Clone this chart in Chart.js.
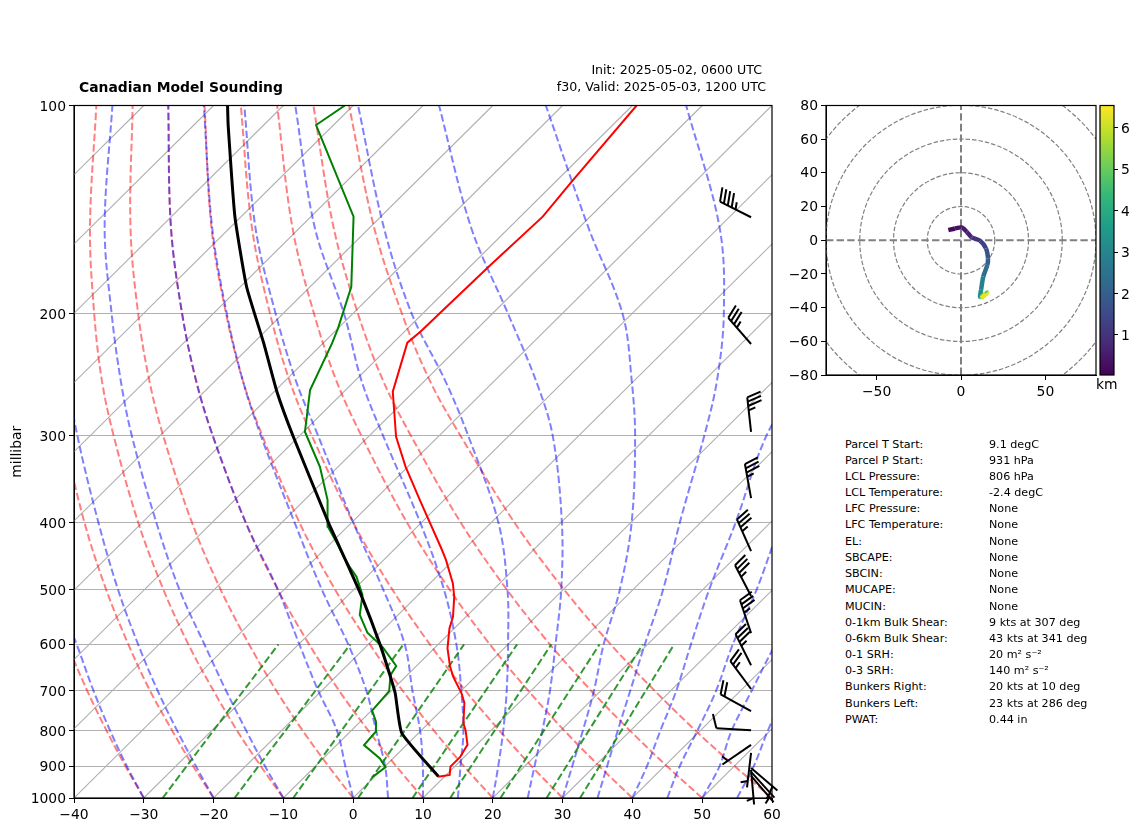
<!DOCTYPE html>
<html><head><meta charset="utf-8">
<script src="https://cdn.jsdelivr.net/npm/chart.js@4/dist/chart.umd.min.js"></script>
<style>
html,body{margin:0;padding:0;background:#fff;width:1142px;height:832px;overflow:hidden;font-family:"DejaVu Sans",sans-serif;color:#000}
canvas{position:absolute}
.t{position:absolute;white-space:nowrap;line-height:1}
</style></head><body>
<canvas id="skew" style="left:0;top:0" width="800" height="832"></canvas>
<canvas id="hodo" style="left:780px;top:90px" width="330" height="310"></canvas>
<canvas id="cbar" style="left:1090px;top:90px" width="52" height="310"></canvas>
<div id="texts"></div>
<script>
// ---------- tick labels and axis limits ----------
const pressureTicks = [100,200,300,400,500,600,700,800,900,1000];
const hodoYTicks = [-80,-60,-40,-20,0,20,40,60,80];
const hodoXTicks = [-50,0,50];
const colorbarTicks = [1,2,3,4,5,6];
const colorbarRange = [0.03,6.54];
const hodoRings = [20,40,60,80,100];

// ---------- sounding (pressure hPa, temperature degC) ----------
const tempP = [931.6,926.3,901,873,838,798,780,729,706,668,646,608,569,547,512,490,453,435.5,373,332,301,259,220,212,199.5,171,144.7,128.8,100];
const tempC = [9.1,10.5,9.4,9.4,8.7,6.3,5.0,2.2,0.4,-3.2,-5.1,-8.1,-10.7,-11.9,-14.6,-16.7,-21.1,-23.5,-33.2,-40.4,-46,-53,-58,-57.7,-57.6,-57.3,-56.8,-57.7,-59.4];
const dewP = [933.4,903,876.6,838.5,802.2,776,748,700.7,664.4,644.7,606,577,544,509,479,463.5,453,428.7,405.7,371.3,332.4,295.9,257.5,220.4,209.8,182.7,144.7,106.7,100];
const dewC = [-0.3,0.2,-1.9,-6.1,-6.35,-7.75,-9.9,-10.3,-12.4,-12.9,-17.5,-21.85,-25.5,-28,-31.5,-33.9,-35.5,-39.1,-42.8,-46.7,-52.6,-59.8,-65.1,-68.7,-70,-74.1,-83.9,-102.5,-101.2];
const parcelP = [931,806,706,664.4,601,512,453,401,300.8,259,220,182.7,144.7,106.7,100];
const parcelC = [9.1,-2.4,-9.1,-12.5,-18.25,-27.85,-35.5,-43.2,-60.75,-69.6,-78.6,-89.1,-100.9,-115.1,-118];

// ---------- background thermodynamic lines ----------
const isothermStart = [-130,-120,-110,-100,-90,-80,-70,-60,-50,-40,-30,-20,-10,0,10,20,30,40,50];
const curveLevels = [1000,900,800,700,600,500,400,300,250,200,150,100];
const dryAdiabats = [
 [-40,-46.9,-54.4,-62.6,-71.7,-81.9,-93.7,-107.9,-116.3,-125.9,-137.6,-152.4],
 [-30,-37.2,-45.0,-53.6,-63.1,-73.7,-86.0,-100.8,-109.6,-119.6,-131.8,-147.2],
 [-20,-27.5,-35.6,-44.6,-54.4,-65.5,-78.3,-93.7,-102.9,-113.3,-126.0,-142.0],
 [-10,-17.8,-26.3,-35.5,-45.8,-57.3,-70.6,-86.6,-96.2,-107.0,-120.1,-136.8],
 [0,-8.1,-16.9,-26.5,-37.1,-49.1,-62.9,-79.5,-89.4,-100.7,-114.3,-131.6],
 [10,1.6,-7.5,-17.5,-28.5,-40.9,-55.2,-72.4,-82.7,-94.4,-108.5,-126.5],
 [20,11.3,1.9,-8.4,-19.8,-32.7,-47.5,-65.3,-76.0,-88.1,-102.7,-121.3],
 [30,21.0,11.3,0.6,-11.2,-24.5,-39.8,-58.2,-69.3,-81.8,-96.9,-116.1],
 [40,30.7,20.6,9.6,-2.6,-16.3,-32.1,-51.1,-62.6,-75.5,-91.1,-110.9],
 [50,40.4,30.0,18.6,6.0,-8.1,-24.4,-44.0,-55.9,-69.2,-85.2,-105.7],
 [60,50.1,39.4,27.7,14.7,0.1,-16.7,-36.9,-49.2,-62.9,-79.4,-100.6]
];
const moistAdiabats = [
 [-40,-46.7,-54.2,-62.4,-71.5,-81.7,-93.5,-107.7,-116.1,-125.7,-137.4,-152.2],
 [-30,-37,-44.5,-52.7,-61.8,-72.8,-85.2,-100,-109,-119,-131,-146.5],
 [-20,-27.1,-34.9,-43.5,-53,-63.8,-76.3,-91.8,-101,-111.3,-124,-140],
 [-10,-17.2,-25,-33.7,-43.5,-55,-68,-84,-93.5,-104.5,-118,-134.5],
 [0,-5.7,-12,-20.5,-29.9,-40.9,-55.2,-72.4,-82.7,-94.4,-108.5,-126.5],
 [5,0,-6.4,-13.6,-22.9,-34.6,-48.2,-65.5,-76,-88,-102.6,-121.4],
 [10,5.4,-0.1,-7,-14.8,-25.8,-39.8,-57.3,-68.4,-81,-96.4,-115.6],
 [15,10.8,6.1,0,-7.4,-17.1,-30.2,-48,-59,-71.2,-87.9,-108.3],
 [20,16.2,11.8,6.5,0,-8,-19,-35.8,-47,-61.5,-78,-99.3],
 [25,21.4,17.4,12.7,6.8,-0.3,-9.9,-23.7,-34,-47.7,-65.5,-87.7],
 [30,26.8,23.2,19,13.7,8.1,0.1,-11.9,-20.3,-31.3,-48.7,-72.4],
 [35,31.8,28.2,24.2,19.6,14.3,7,-2,-8.1,-16.8,-29.9,-52.3],
 [40,37.5,34.3,30.8,26.2,20.9,15,6.9,3.8,-1,-11,-30],
 [45,42.2,39.6,36.5,32.2,27.7,21.6,15,11,6,-1,-12],
 [50,47.9,44.5,41.6,38.3,34.9,30,24,20,15,9,0],
 [55,52.8,49.7,46.5,43,39,34,28,24,20,14,5],
 [60,57.4,54.5,51.5,48,44,40,35,31,27,22,15]
];
const mixingLevels = [1000,600];
const mixingLines = [[-27.3,-32.9],[-17,-22.6],[-8.6,-15],[0.7,-6.3],[8.5,1.3],[13.9,6.2],[21.1,13.1],[27.7,19.3],[32.5,23.8]];

// ---------- wind barbs ----------
const barbColumnX = 57;
const barbP = [145,221,296,369,440,511,578,643,696,749,798,838,861,905,911,917,929];
const barbSpeed = [45,35,35,35,35,35,35,35,25,20,10,5,5,5,5,5,5];
const barbDir = [296.7,319,353.7,349.8,336,332.5,341.4,333.4,323.4,298.6,273.3,235.6,186.7,130.6,175,137.6,139.4];

// ---------- hodograph ----------
const hodoU = [-7.5,-3.6,0.4,3.4,6.3,11.3,14.8,16,15.6,13.2,11.9,11.3,15.6,12];
const hodoV = [6,7,7.6,5,1.7,-0.3,-4.8,-10.7,-14.7,-21.6,-29.5,-33.8,-31,-34.5];
const hodoKm = [0.1,0.2,0.35,0.5,0.7,1,1.3,1.7,2,2.4,2.9,3.3,4.8,6.3];
const viridis = ['#440154','#482878','#3e4989','#31688e','#26828e','#1f9e89','#35b779','#6ece58','#b5de2b','#fde725'];

// ---------- text ----------
const statLabels = ['Parcel T Start:','Parcel P Start:','LCL Pressure:','LCL Temperature:','LFC Pressure:','LFC Temperature:','EL:','SBCAPE:','SBCIN:','MUCAPE:','MUCIN:','0-1km Bulk Shear:','0-6km Bulk Shear:','0-1 SRH:','0-3 SRH:','Bunkers Right:','Bunkers Left:','PWAT:'];
const statValues = ['9.1 degC','931 hPa','806 hPa','-2.4 degC','None','None','None','None','None','None','None','9 kts at 307 deg','43 kts at 341 deg','20 m² s⁻²','140 m² s⁻²','20 kts at 10 deg','23 kts at 286 deg','0.44 in'];
const statY = [445,461,477,493,509,525,542,558,574,590,606.5,623,639,655,671,687,703.5,720];

// ---------- helpers ----------
const SKEW = 100;
const FONT = '"DejaVu Sans"';
const TICK = 13.9;
const skewX = (t,p) => t + SKEW*Math.log10(1000/p);
const minusFmt = v => v<0 ? '\u2212'+Math.abs(v) : String(v);
const zip = (ts,ps) => ts.map((t,i)=>({x:skewX(t,ps[i]),y:ps[i]}));
function viridisAt(km){
  const f=Math.max(0,Math.min(0.9999,(km-colorbarRange[0])/(colorbarRange[1]-colorbarRange[0])))*(viridis.length-1);
  const i=Math.floor(f),k=f-i;
  const rgb=h=>[1,3,5].map(j=>parseInt(h.substr(j,2),16));
  const a=rgb(viridis[i]),b=rgb(viridis[i+1]);
  return 'rgb('+a.map((c,j)=>Math.round(c+(b[j]-c)*k)).join(',')+')';
}
const DASH=[7.4,3.2];
const bgLine=(data,color,extra)=>Object.assign({type:'line',data,borderColor:color,borderWidth:2,borderDash:DASH,pointRadius:0,tension:0.35,fill:false},extra||{});

// ---------- skew-T chart ----------
const skewSets=[];
skewSets.push({type:'line',label:'Parcel',data:zip(parcelC,parcelP),borderColor:'#000',borderWidth:3,pointRadius:0,tension:0.15,order:1});
skewSets.push({type:'line',label:'Temperature',data:zip(tempC,tempP),borderColor:'#ff0000',borderWidth:2,pointRadius:0,tension:0,order:2});
skewSets.push({type:'line',label:'Dewpoint',data:zip(dewC,dewP),borderColor:'#008000',borderWidth:2,pointRadius:0,tension:0,order:3});
skewSets.push({type:'scatter',label:'Wind',data:barbP.map(p=>({x:barbColumnX,y:p})),pointRadius:0,showLine:false,clip:false,order:4});
mixingLines.forEach(r=>skewSets.push(bgLine(zip(r,mixingLevels),'rgba(0,128,0,0.8)',{tension:0,order:5})));
moistAdiabats.forEach(r=>skewSets.push(bgLine(zip(r,curveLevels),'rgba(0,0,255,0.5)',{order:6})));
dryAdiabats.forEach(r=>skewSets.push(bgLine(zip(r,curveLevels),'rgba(255,0,0,0.5)',{order:7})));
isothermStart.forEach(t=>skewSets.push({type:'line',data:[{x:t,y:1000},{x:t+SKEW,y:100}],borderColor:'#b0b0b0',borderWidth:1.1,pointRadius:0,order:8}));

const framePlugin={id:'frame',afterDatasetsDraw(c){const a=c.chartArea,x=c.ctx;x.save();x.strokeStyle='#000';x.lineWidth=1.2;x.strokeRect(a.left,a.top,a.right-a.left,a.bottom-a.top);x.restore();}};

const barbPlugin={id:'barbs',afterDraw(c){
  const idx=c.data.datasets.findIndex(d=>d.label==='Wind');
  const els=c.getDatasetMeta(idx).data,x=c.ctx,L=34.7;
  x.save();x.strokeStyle='#000';x.fillStyle='#000';x.lineWidth=2;x.lineCap='butt';
  els.forEach((el,i)=>{
    const a=barbDir[i]*Math.PI/180,ux=Math.sin(a),uy=-Math.cos(a),nx=-uy,ny=ux;
    const tx=el.x+ux*L,ty=el.y+uy*L;
    x.beginPath();x.moveTo(el.x,el.y);x.lineTo(tx,ty);x.stroke();
    let s=Math.round(barbSpeed[i]/5)*5,off=0;
    const sp=0.125*L,h=0.4*L;
    const flags=Math.floor(s/50);s-=flags*50;
    const full=Math.floor(s/10);s-=full*10;
    const half=s>=5;
    for(let k=0;k<flags;k++){
      const px=tx-ux*off,py=ty-uy*off;
      x.beginPath();x.moveTo(px,py);x.lineTo(px+nx*h-ux*sp,py+ny*h-uy*sp);x.lineTo(px-ux*2*sp,py-uy*2*sp);x.closePath();x.fill();
      off+=2.5*sp;
    }
    for(let k=0;k<full;k++){
      const px=tx-ux*off,py=ty-uy*off;
      x.beginPath();x.moveTo(px,py);x.lineTo(px+nx*h+ux*sp,py+ny*h+uy*sp);x.stroke();
      off+=sp;
    }
    if(half){
      if(!flags&&!full)off+=1.5*sp;
      const px=tx-ux*off,py=ty-uy*off;
      x.beginPath();x.moveTo(px,py);x.lineTo(px+nx*h/2+ux*sp/2,py+ny*h/2+uy*sp/2);x.stroke();
    }
  });
  x.restore();
}};

new Chart(document.getElementById('skew'),{
  data:{datasets:skewSets},
  plugins:[framePlugin,barbPlugin],
  options:{
    responsive:false,animation:false,devicePixelRatio:1,
    layout:{padding:{left:0,right:28,top:105.5,bottom:0}},
    plugins:{legend:{display:false},tooltip:{enabled:false}},
    scales:{
      x:{type:'linear',min:-40,max:60,
        afterFit:s=>{s.height=34},
        afterBuildTicks:s=>{s.ticks=[-40,-30,-20,-10,0,10,20,30,40,50,60].map(v=>({value:v}))},
        border:{color:'#000',width:1},
        grid:{drawOnChartArea:false,tickLength:5,tickColor:'#000'},
        ticks:{color:'#000',font:{family:FONT,size:TICK},maxRotation:0,autoSkip:false,padding:4,callback:minusFmt}},
      y:{type:'logarithmic',reverse:true,min:100,max:1000,
        afterFit:s=>{s.width=74},
        afterBuildTicks:s=>{s.ticks=pressureTicks.map(v=>({value:v}))},
        border:{color:'#000',width:1},
        grid:{color:'#b0b0b0',lineWidth:1,tickLength:5,tickColor:'#000'},
        title:{display:true,text:'millibar',color:'#000',font:{family:FONT,size:TICK},padding:{top:9,bottom:0}},
        ticks:{color:'#000',font:{family:FONT,size:TICK},autoSkip:false,padding:3,labelOffset:1.5,callback:v=>String(v)}}
    }
  }
});

// ---------- hodograph chart ----------
const ringPlugin={id:'rings',beforeDatasetsDraw(c){
  const xs=c.scales.x,ys=c.scales.y,a=c.chartArea,x=c.ctx;
  x.save();x.beginPath();x.rect(a.left,a.top,a.right-a.left,a.bottom-a.top);x.clip();
  x.strokeStyle='#808080';x.lineWidth=1.2;x.setLineDash([4.5,2]);
  const cx=xs.getPixelForValue(0),cy=ys.getPixelForValue(0);
  hodoRings.forEach(r=>{x.beginPath();x.arc(cx,cy,xs.getPixelForValue(r)-cx,0,Math.PI*2);x.stroke();});
  x.restore();
}};
new Chart(document.getElementById('hodo'),{
  data:{datasets:[
    {type:'line',data:hodoU.map((u,i)=>({x:u,y:hodoV[i]})),borderWidth:4.5,pointRadius:0,tension:0.25,
      borderColor:viridis[0],segment:{borderColor:s=>viridisAt(hodoKm[s.p1DataIndex])},order:1},
    {type:'line',data:[{x:-80,y:0},{x:80,y:0}],borderColor:'#808080',borderWidth:2,borderDash:DASH,pointRadius:0,order:2},
    {type:'line',data:[{x:0,y:-80},{x:0,y:80}],borderColor:'#808080',borderWidth:2,borderDash:DASH,pointRadius:0,order:2}
  ]},
  plugins:[ringPlugin,framePlugin],
  options:{
    responsive:false,animation:false,devicePixelRatio:1,
    layout:{padding:{left:0,right:14,top:15.5,bottom:0}},
    plugins:{legend:{display:false},tooltip:{enabled:false}},
    scales:{
      x:{type:'linear',min:-80,max:80,afterFit:s=>{s.height=25},
        afterBuildTicks:s=>{s.ticks=hodoXTicks.map(v=>({value:v}))},
        border:{color:'#000',width:1},grid:{drawOnChartArea:false,tickLength:5,tickColor:'#000'},
        ticks:{color:'#000',font:{family:FONT,size:TICK},maxRotation:0,autoSkip:false,padding:4,callback:minusFmt}},
      y:{type:'linear',min:-80,max:80,afterFit:s=>{s.width=46},
        afterBuildTicks:s=>{s.ticks=hodoYTicks.map(v=>({value:v}))},
        border:{color:'#000',width:1},grid:{drawOnChartArea:false,tickLength:5,tickColor:'#000'},
        ticks:{color:'#000',font:{family:FONT,size:TICK},autoSkip:false,padding:3,labelOffset:1,callback:minusFmt}}
    }
  }
});

// ---------- colour bar ----------
new Chart(document.getElementById('cbar'),{
  type:'bar',
  data:{labels:['km'],datasets:[{data:[colorbarRange],barPercentage:1,categoryPercentage:1,borderWidth:0,
    backgroundColor:ctx=>{
      const a=ctx.chart.chartArea;if(!a)return viridis[0];
      const g=ctx.chart.ctx.createLinearGradient(0,a.bottom,0,a.top);
      viridis.forEach((c,i)=>g.addColorStop(i/(viridis.length-1),c));return g;
    }}]},
  plugins:[framePlugin],
  options:{
    responsive:false,animation:false,devicePixelRatio:1,
    layout:{padding:{left:10,right:0,top:15.5,bottom:25}},
    plugins:{legend:{display:false},tooltip:{enabled:false}},
    scales:{
      x:{display:false},
      y:{position:'right',type:'linear',min:colorbarRange[0],max:colorbarRange[1],afterFit:s=>{s.width=28},
        afterBuildTicks:s=>{s.ticks=colorbarTicks.map(v=>({value:v}))},
        border:{display:false},grid:{drawOnChartArea:false,tickLength:4,tickColor:'#000'},
        ticks:{color:'#000',font:{family:FONT,size:TICK},padding:3,autoSkip:false,labelOffset:1.5}}
    }
  }
});

// ---------- text overlay ----------
const box=document.getElementById('texts');
function put(txt,x,yc,size,opts){
  const d=document.createElement('div');d.className='t';d.textContent=txt;
  d.style.fontSize=size+'px';d.style.top=(yc-size/2)+'px';
  if(opts&&opts.right!=null){d.style.right=(1142-opts.right)+'px';}else{d.style.left=x+'px';}
  if(opts&&opts.bold)d.style.fontWeight='bold';
  box.appendChild(d);
}
put('Canadian Model Sounding',79,87.5,13.9,{bold:true});
put('Init: 2025-05-02, 0600 UTC',0,70.5,12.6,{right:762});
put('f30, Valid: 2025-05-03, 1200 UTC',0,87.5,12.6,{right:766});
put('km',1096,384.5,13.9);
statLabels.forEach((s,i)=>put(s,845,statY[i],11.15));
statValues.forEach((s,i)=>put(s,989,statY[i],11.15));
</script>
</body></html>
